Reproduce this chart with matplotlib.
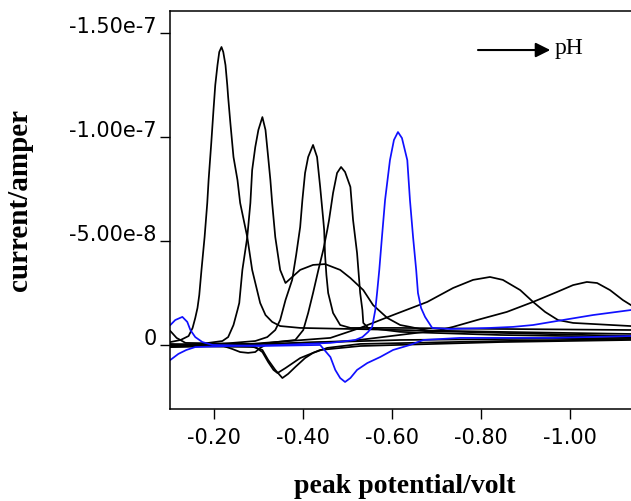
#!/usr/bin/env python3
"""Voltammograms of the peak current vs. peak potential at several pH values."""
import numpy as np
import matplotlib
matplotlib.use('Agg')
import matplotlib.pyplot as plt
from matplotlib.ticker import FixedLocator, FixedFormatter

# potentials in volt, currents in units of 1e-8 ampere
k1_x = [-0.101, -0.124, -0.142, -0.151, -0.157, -0.162, -0.166, -0.171, -0.178, -0.184,
        -0.187, -0.193, -0.198, -0.202, -0.207, -0.211, -0.216, -0.220, -0.225, -0.229,
        -0.231, -0.236, -0.243, -0.252, -0.258, -0.274, -0.285, -0.303, -0.315, -0.330,
        -0.348, -0.393, -0.618, -0.843, -1.137]
k1_y = [-0.14, -0.24, -0.43, -0.82, -1.30, -1.78, -2.40, -3.61, -5.19, -6.83,
        -7.93, -9.71, -11.30, -12.50, -13.46, -14.09, -14.33, -14.09, -13.46, -12.50,
        -11.92, -10.67, -9.04, -7.93, -6.83, -5.19, -3.61, -2.02, -1.44, -1.11,
        -0.91, -0.82, -0.72, -0.63, -0.53]

k2_x = [-0.101, -0.169, -0.218, -0.231, -0.243, -0.252, -0.256, -0.263, -0.274, -0.281,
        -0.285, -0.292, -0.299, -0.308, -0.315, -0.321, -0.326, -0.330, -0.337, -0.348,
        -0.360, -0.393, -0.422, -0.449, -0.483, -0.506, -0.535, -0.557, -0.589, -0.618,
        -0.640, -0.685, -0.843, -1.137]
k2_y = [0.0, -0.05, -0.19, -0.38, -0.96, -1.68, -2.02, -3.61, -5.19, -6.83,
        -8.41, -9.52, -10.34, -10.96, -10.34, -9.04, -7.93, -6.83, -5.19, -3.61,
        -2.98, -3.61, -3.85, -3.89, -3.61, -3.22, -2.64, -1.92, -1.30, -0.96,
        -0.87, -0.67, -0.58, -0.43]

k3_x = [-0.101, -0.213, -0.292, -0.319, -0.337, -0.348, -0.360, -0.375, -0.384, -0.393,
        -0.398, -0.404, -0.411, -0.422, -0.431, -0.438, -0.445, -0.447, -0.449, -0.452,
        -0.456, -0.467, -0.483, -0.506, -0.618, -0.843, -1.137]
k3_y = [0.05, -0.05, -0.19, -0.38, -0.72, -1.20, -2.16, -3.13, -4.33, -5.67,
        -6.97, -8.27, -9.04, -9.62, -9.04, -7.60, -6.01, -5.53, -4.33, -3.37,
        -2.50, -1.54, -0.96, -0.82, -0.82, -0.77, -0.72]

k4_x = [-0.101, -0.281, -0.382, -0.400, -0.411, -0.422, -0.434, -0.445, -0.454, -0.458,
        -0.467, -0.476, -0.485, -0.494, -0.506, -0.512, -0.521, -0.528, -0.533, -0.535,
        -0.546, -0.618, -0.843, -1.137]
k4_y = [0.10, 0.0, -0.24, -0.72, -1.54, -2.50, -3.61, -4.57, -5.53, -6.01,
        -7.31, -8.27, -8.56, -8.32, -7.60, -6.01, -4.42, -2.50, -1.68, -1.06,
        -0.82, -0.63, -0.48, -0.38]

k5_x = [-0.101, -0.115, -0.135, -0.281, -0.461, -0.528, -0.602, -0.679, -0.737, -0.782,
        -0.820, -0.849, -0.888, -0.917, -0.944, -0.973, -1.007, -1.137]
k5_y = [-0.67, -0.34, -0.10, -0.05, -0.34, -0.82, -1.44, -2.07, -2.74, -3.13,
        -3.27, -3.13, -2.64, -2.07, -1.59, -1.20, -1.06, -0.91]

k6_x = [-0.101, -0.506, -0.708, -0.737, -0.791, -0.858, -0.917, -0.971, -1.007, -1.038,
        -1.061, -1.090, -1.119, -1.137]
k6_y = [0.10, -0.19, -0.72, -0.87, -1.20, -1.59, -2.07, -2.55, -2.88, -3.03,
        -2.98, -2.64, -2.16, -1.92]

# reverse scans (small cathodic dips)
d1_x = [-0.101, -0.213, -0.240, -0.258, -0.276, -0.292, -0.303, -0.315, -0.393, -0.618, -1.137]
d1_y = [-0.05, 0.0, 0.19, 0.34, 0.38, 0.34, 0.14, 0.0, -0.10, -0.24, -0.34]

d2_x = [-0.101, -0.281, -0.308, -0.321, -0.337, -0.353, -0.366, -0.382, -0.404, -0.422,
        -0.454, -0.528, -0.843, -1.137]
d2_y = [0.0, 0.05, 0.24, 0.72, 1.20, 1.59, 1.39, 1.06, 0.63, 0.38,
        0.14, -0.05, -0.19, -0.29]

d3_x = [-0.101, -0.292, -0.308, -0.321, -0.333, -0.342, -0.360, -0.393, -0.438, -0.528, -0.843, -1.137]
d3_y = [0.05, 0.10, 0.34, 0.82, 1.20, 1.35, 1.11, 0.63, 0.24, 0.05, -0.14, -0.24]

# blue scans
ba_x = [-0.101, -0.119, -0.137, -0.157, -0.236, -0.348, -0.461, -0.517, -0.533, -0.546,
        -0.555, -0.562, -0.566, -0.571, -0.577, -0.584, -0.595, -0.604, -0.613, -0.622,
        -0.634, -0.640, -0.647, -0.654, -0.658, -0.665, -0.674, -0.690, -0.730, -0.820,
        -0.872, -0.917, -0.984, -1.052, -1.137]
ba_y = [0.72, 0.43, 0.24, 0.10, 0.05, 0.0, -0.10, -0.24, -0.38, -0.63,
        -0.87, -1.68, -2.50, -3.61, -5.19, -6.97, -8.89, -9.86, -10.24, -9.95,
        -8.89, -6.97, -5.19, -3.61, -2.50, -1.78, -1.35, -0.82, -0.77, -0.82,
        -0.87, -0.96, -1.20, -1.44, -1.68]

bb_x = [-0.101, -0.112, -0.128, -0.139, -0.146, -0.157, -0.173, -0.196, -0.303, -0.438,
        -0.461, -0.472, -0.483, -0.494, -0.506, -0.521, -0.544, -0.573, -0.602, -0.640,
        -0.670, -0.753, -0.962, -1.137]
bb_y = [-0.96, -1.20, -1.35, -1.11, -0.72, -0.38, -0.14, 0.0, 0.05, 0.0,
        0.58, 1.20, 1.59, 1.78, 1.59, 1.20, 0.87, 0.58, 0.24, 0.0,
        -0.24, -0.34, -0.34, -0.43]

black_curves = [(k1_x, k1_y), (k2_x, k2_y), (k3_x, k3_y), (k4_x, k4_y), (k5_x, k5_y),
                (k6_x, k6_y), (d1_x, d1_y), (d2_x, d2_y), (d3_x, d3_y)]
blue_curves = [(ba_x, ba_y), (bb_x, bb_y)]

y_ticks = [-1.5e-7, -1.0e-7, -5.0e-8, 0.0]
y_ticklabels = ['-1.50e-7', '-1.00e-7', '-5.00e-8', '0']
x_ticks = [-0.2, -0.4, -0.6, -0.8, -1.0]
x_ticklabels = ['-0.20', '-0.40', '-0.60', '-0.80', '-1.00']

SCALE = 1e-8

fig = plt.figure(figsize=(6.31, 5.01), dpi=100)
ax = fig.add_axes([0.270, 0.1836, 0.7298, 0.7944])

for xs, ys in black_curves:
    ax.plot(xs, np.array(ys) * SCALE, color='black', lw=1.25)
for xs, ys in blue_curves:
    ax.plot(xs, np.array(ys) * SCALE, color='#1010ff', lw=1.25)

# both axes run "backwards"
ax.set_xlim(-0.101, -1.137)
ax.set_ylim(3.08e-8, -16.06e-8)

ax.xaxis.set_major_locator(FixedLocator(x_ticks))
ax.xaxis.set_major_formatter(FixedFormatter(x_ticklabels))
ax.yaxis.set_major_locator(FixedLocator(y_ticks))
ax.yaxis.set_major_formatter(FixedFormatter(y_ticklabels))

ax.spines['right'].set_visible(False)
for s in ['left', 'top', 'bottom']:
    ax.spines[s].set_linewidth(1.1)

ax.tick_params(axis='both', direction='out', length=7, width=1.0,
               labelsize=15, labelfontfamily='DejaVu Sans')
ax.tick_params(axis='x', pad=7)
ax.tick_params(axis='y', pad=3)
for lab in ax.get_yticklabels():
    lab.set_verticalalignment('baseline')

ax.set_xlabel('peak potential/volt', fontsize=20, fontweight='bold',
              family='Liberation Serif')
ax.xaxis.set_label_coords(0.509, -0.163)
ax.set_ylabel('current/amper', fontsize=21, fontweight='bold',
              family='Liberation Serif')
ax.yaxis.set_label_coords(-0.298, 0.525)

# pH direction arrow
ax.annotate('', xy=(0.825, 0.902), xytext=(0.668, 0.902), xycoords='axes fraction',
            arrowprops=dict(arrowstyle='-|>', color='black', lw=1.5,
                            mutation_scale=22, shrinkA=0, shrinkB=0))
ax.text(0.834, 0.905, 'pH', transform=ax.transAxes, fontsize=17,
        family='Liberation Serif', va='center', ha='left')

fig.savefig('out.png', dpi=100)
